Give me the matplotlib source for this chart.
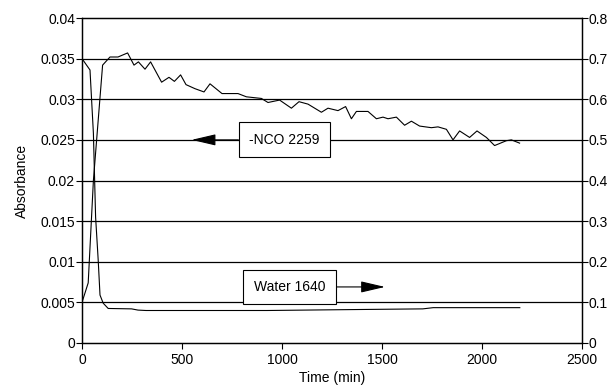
import matplotlib
matplotlib.use("Agg")
import matplotlib.pyplot as plt

plt.rcParams['font.family'] = ['Liberation Sans', 'DejaVu Sans']

# -NCO 2259 absorbance (left axis)
nco_t = [0, 31, 57, 90, 103, 140, 180, 228, 260, 282, 315, 343, 398, 435, 462, 493,
         520, 565, 610, 640, 700, 780, 822, 897, 930, 988, 1047, 1085, 1130, 1197,
         1230, 1280, 1318, 1347, 1372, 1430, 1472, 1505, 1530, 1572, 1613, 1647,
         1688, 1747, 1780, 1822, 1855, 1888, 1938, 1975, 2022, 2063, 2122, 2147, 2188]
nco_a = [0.0050, 0.0074, 0.0200, 0.0302, 0.0342, 0.0352, 0.0352, 0.0357, 0.0342,
         0.0346, 0.0337, 0.0346, 0.0321, 0.0327, 0.0322, 0.0330, 0.0318, 0.0313,
         0.0309, 0.0319, 0.0307, 0.0307, 0.0303, 0.0301, 0.0296, 0.0299, 0.0289,
         0.0297, 0.0294, 0.0284, 0.0289, 0.0286, 0.0291, 0.0276, 0.0285, 0.0285,
         0.0276, 0.0278, 0.0276, 0.0278, 0.0268, 0.0273, 0.0267, 0.0265, 0.0266,
         0.0263, 0.0250, 0.0261, 0.0253, 0.0261, 0.0253, 0.0243, 0.0249, 0.0250, 0.0246]

# Water 1640 absorbance (right axis)
water_t = [0, 40, 57, 68, 81, 90, 106, 131, 248, 280, 320, 926, 1300, 1704, 1756, 2189]
water_a = [0.700, 0.672, 0.516, 0.310, 0.204, 0.118, 0.098, 0.085, 0.084, 0.081,
           0.080, 0.080, 0.082, 0.084, 0.087, 0.087]

left_ticks = [0, 0.005, 0.01, 0.015, 0.02, 0.025, 0.03, 0.035, 0.04]
left_labels = ['0', '0.005', '0.01', '0.015', '0.02', '0.025', '0.03', '0.035', '0.04']
right_ticks = [0, 0.1, 0.2, 0.3, 0.4, 0.5, 0.6, 0.7, 0.8]
right_labels = ['0', '0.1', '0.2', '0.3', '0.4', '0.5', '0.6', '0.7', '0.8']
x_ticks = [0, 500, 1000, 1500, 2000, 2500]

fig = plt.figure(figsize=(6.16, 3.85), dpi=100)
ax = fig.add_axes([82/616, 1-343/385, 500/616, 325/385])
ax2 = ax.twinx()

for y in left_ticks[1:-1]:
    ax.axhline(y, color='black', lw=0.9, zorder=1)

ax.plot(nco_t, nco_a, color='black', lw=0.8, zorder=3)
ax2.plot(water_t, water_a, color='black', lw=0.8, zorder=3)

ax.set_xlim(0, 2500)
ax.set_ylim(0, 0.04)
ax2.set_ylim(0, 0.8)
ax.set_xticks(x_ticks)
ax.set_xticklabels([str(v) for v in x_ticks])
ax.set_yticks(left_ticks)
ax.set_yticklabels(left_labels)
ax2.set_yticks(right_ticks)
ax2.set_yticklabels(right_labels)

for a in (ax, ax2):
    a.tick_params(direction='out', length=4, width=0.8, labelsize=10, pad=1, color='black')
    for s in a.spines.values():
        s.set_linewidth(0.9)
ax.tick_params(axis='x', pad=3)

ax.set_xlabel('Time (min)', fontsize=10, labelpad=3)
ax.set_ylabel('Absorbance', fontsize=10, labelpad=8)

arrow = dict(arrowstyle='-|>,head_length=1.5,head_width=0.35', color='black',
             lw=0.8, mutation_scale=10, shrinkA=0, shrinkB=0)
ax.annotate('-NCO 2259', xy=(548, 0.025), xytext=(1012, 0.025), ha='center', va='center',
            fontsize=10, zorder=5,
            bbox=dict(boxstyle='square,pad=0.75', fc='white', ec='black', lw=0.8),
            arrowprops=arrow)
ax.annotate('Water 1640', xy=(1515, 0.0069), xytext=(1037, 0.0069), ha='center', va='center',
            fontsize=10, zorder=5,
            bbox=dict(boxstyle='square,pad=0.75', fc='white', ec='black', lw=0.8),
            arrowprops=arrow)

fig.savefig('out.png', dpi=100)
